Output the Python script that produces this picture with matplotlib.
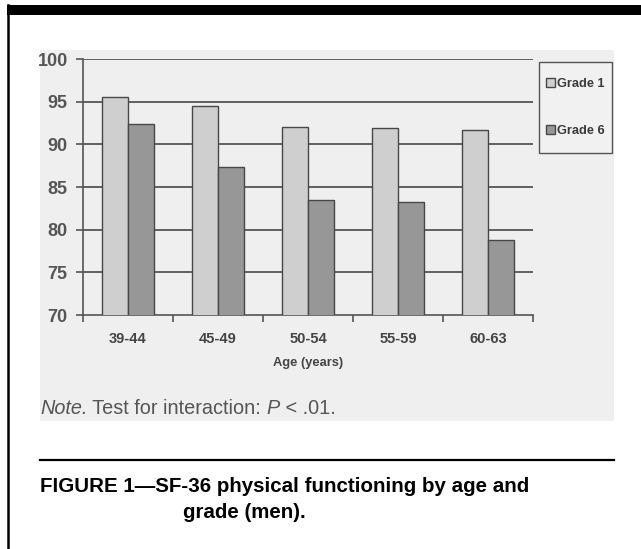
import matplotlib
matplotlib.use("Agg")
import matplotlib.pyplot as plt
from matplotlib.patches import Rectangle
from matplotlib.lines import Line2D
import numpy as np

categories = ["39-44", "45-49", "50-54", "55-59", "60-63"]
grade1 = [95.5, 94.5, 92.0, 91.9, 91.7]
grade6 = [92.4, 87.3, 83.5, 83.2, 78.8]
series_names = ["Grade 1", "Grade 6"]
yticks = [70, 75, 80, 85, 90, 95, 100]

W, H = 641, 549
plt.rcParams['font.family'] = ['Liberation Sans', 'DejaVu Sans']
fig = plt.figure(figsize=(W / 100, H / 100), dpi=100)
fig.patch.set_facecolor("white")

def fx(px):
    return px / W

def fy(py):
    return 1 - py / H

# shaded chart background
fig.patches.append(Rectangle((fx(40), fy(421)), fx(614) - fx(40), fy(50) - fy(421),
                             transform=fig.transFigure, facecolor="#efefef",
                             edgecolor="none", zorder=-10))
# page frame: top black bar and left rule
fig.patches.append(Rectangle((fx(7), fy(15)), 1 - fx(7), fy(5) - fy(15),
                             transform=fig.transFigure, facecolor="black",
                             edgecolor="none", zorder=-10))
fig.lines.append(Line2D([fx(8), fx(8)], [fy(5), 0], transform=fig.transFigure,
                        color="black", linewidth=1.8, zorder=-10))
# divider line above caption
fig.lines.append(Line2D([fx(40), fx(614)], [fy(460), fy(460)], transform=fig.transFigure,
                        color="black", linewidth=1.6, zorder=-10))
# legend frame
fig.patches.append(Rectangle((fx(538.5), fy(153)), fx(612) - fx(538.5), fy(62) - fy(153),
                             transform=fig.transFigure, facecolor="#f1f1f1",
                             edgecolor="#555555", linewidth=1.0, zorder=-5))

ax = fig.add_axes([fx(83), fy(315), fx(533) - fx(83), fy(59) - fy(315)])
ax.set_facecolor("none")

x = np.arange(len(categories))
bw = 0.29
b1 = ax.bar(x - bw / 2, grade1, width=bw, color="#cfcfcf", edgecolor="#474747",
            linewidth=1.0, zorder=3, label=series_names[0])
b6 = ax.bar(x + bw / 2, grade6, width=bw, color="#979797", edgecolor="#474747",
            linewidth=1.0, zorder=3, label=series_names[1])

ax.set_ylim(70, 100)
ax.set_xlim(-0.5, len(categories) - 0.5)
ax.set_yticks(yticks)
ax.set_yticklabels([str(v) for v in yticks], fontsize=13, fontweight="bold", color="#555555")
for v in yticks[1:]:
    ax.axhline(v, color="#555555", linewidth=1.3, zorder=1)

ax.set_xticks(x)
ax.set_xticklabels(categories, fontsize=10.5, fontweight="bold", color="#444444")
ax.set_xticks(np.arange(-0.5, len(categories), 1.0), minor=True)
ax.tick_params(axis="x", which="major", length=0, pad=12)
ax.tick_params(axis="x", which="minor", length=5, width=1.2, color="#555555", direction="out")
ax.tick_params(axis="y", which="major", length=5, width=1.2, color="#555555", pad=6)

for s in ["top", "right"]:
    ax.spines[s].set_visible(False)
for s in ["left", "bottom"]:
    ax.spines[s].set_color("#555555")
    ax.spines[s].set_linewidth(1.2)

ax.set_xlabel("Age (years)", fontsize=9.3, fontweight="bold", color="#444444", labelpad=8)

leg = ax.legend(handles=[b1, b6], loc="center",
                bbox_to_anchor=(fx(538.5), fy(153), fx(612) - fx(538.5), fy(62) - fy(153)),
                bbox_transform=fig.transFigure,
                borderaxespad=0, frameon=False,
                handlelength=0.75, handleheight=0.75, handletextpad=0.15,
                labelspacing=2.75, borderpad=0.2,
                prop={"size": 9.2, "weight": "bold"})
for t in leg.get_texts():
    t.set_color("#3a3a3a")

# note
note_parts = [("Note.", "italic"), (" Test for interaction: ", "normal"), ("P", "italic"), (" < .01.", "normal")]
renderer = fig.canvas.get_renderer()
xpos = fx(40)
for txt, style in note_parts:
    t = fig.text(xpos, fy(408), txt, fontsize=14.3, style=style, color="#555555", va="center")
    bb = t.get_window_extent(renderer=renderer)
    xpos += bb.width / W

# caption
fig.text(fx(40), fy(487), "FIGURE 1\u2014SF-36 physical functioning by age and",
         fontsize=14.8, fontweight="bold", color="black", va="center")
fig.text(fx(183), fy(512), "grade (men).", fontsize=14.8, fontweight="bold",
         color="black", va="center")

fig.savefig("out.png", dpi=100)
